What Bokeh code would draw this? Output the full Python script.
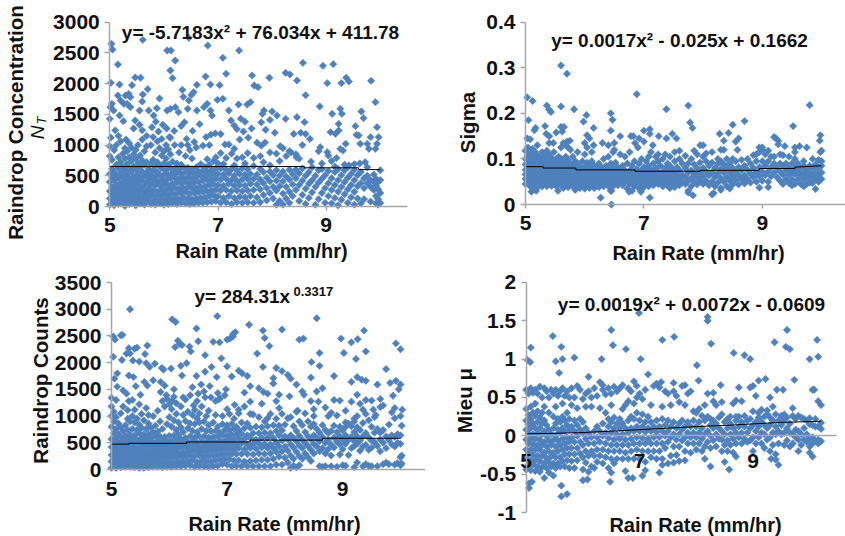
from bokeh.plotting import figure
from bokeh.models import Range1d, LinearAxis, FixedTicker, Label
from bokeh.layouts import column, row
from bokeh.embed import file_html
from bokeh.resources import INLINE
import math

FONT = "Liberation Sans"
BLUE = "#4f81bd"
GREY = "#a6a6a6"

x_ticks = [5, 7, 9]
nt_ticks = [0, 500, 1000, 1500, 2000, 2500, 3000]
sigma_ticks = [0, 0.1, 0.2, 0.3, 0.4]
counts_ticks = [0, 500, 1000, 1500, 2000, 2500, 3000, 3500]
mu_ticks = [-1, -0.5, 0, 0.5, 1, 1.5, 2]

# scattered points read one by one
nt_pts = [(5.03,2648),(5.05,2555),(5.15,2311),(5.02,2013),(5.18,1986),(5.61,2713),(6.46,2745),(6.81,2620),(6.06,2540),(6.13,2540),
(7.39,2540),(6.21,2376),(7.09,2420),(6.12,2214),(6.16,2089),(7.15,2160),(6.77,2116),(5.47,2100),(5.57,2095),(8.57,2338),
(8.94,2290),(9.13,2317),(8.25,2176),(8.33,2149),(8.46,2051),(9.37,2095),(9.42,2035),(9.28,2008),(9.02,2008),(9.83,2046),
(7.95,2095),(7.63,2132),(7.67,1970),(7.74,1942),(6.61,1980),(6.86,1986),(7.03,1975),(6.34,1899),(5.41,1975),(5.70,1910),
(8.62,1812),(9.91,1698),(8.88,1628),(6.36,1785),(6.55,1861),(6.51,1818),(6.46,1725),(5.92,1758),(5.61,1823),(5.60,1709),
(5.15,1807),(5.29,1807),(5.35,1834),(5.38,1780),(5.20,1725),(5.26,1671),(5.32,1671),(5.38,1617),(5.04,1671),(5.01,1617),
(5.07,1563),(5.00,1427),(5.18,1481),(5.25,1389),(5.55,1563),(5.72,1563),(5.87,1600),(5.81,1481),(6.06,1563),(6.12,1590),
(6.21,1617),(6.27,1536),(6.44,1590),(6.61,1563),(6.74,1617),(6.80,1671),(6.99,1736),(7.09,1752),(6.86,1563),(6.89,1481),
(7.20,1563),(7.38,1660),(7.54,1660),(7.60,1698),(7.85,1563),(7.82,1508),(8.00,1546),(8.09,1481),(8.25,1427),(8.46,1454),
(8.60,1373),(9.26,1590),(9.29,1508),(9.11,1508),(9.65,1546),(9.69,1438),(9.54,1308),(9.94,1291),(9.23,1346),(9.23,1237),
(9.08,1210),(9.17,1183),(9.56,1167),(9.60,1156),(9.82,1129),(9.97,1129),(9.94,1020),(9.76,1020),(9.63,1020),(9.36,1020),
(9.26,939),(8.89,966),(9.02,885),(9.91,939),(9.79,939),(5.10,1240),(5.02,1120),(5.16,1150),(5.30,1090),(5.44,1270),
(5.47,1400),(5.55,1330),(5.60,1240),(5.68,1150),(5.78,1290),(5.85,1380),(5.90,1220),(5.98,1330),(6.05,1270),(6.10,1130),
(6.19,1230),(6.32,1310),(6.38,1370),(6.42,1100),(6.53,1230),(6.66,1340),(6.78,1130),(6.87,1170),(6.95,1190),(7.05,1180),
(7.13,1010),(7.24,1400),(7.30,1320),(7.35,1260),(7.42,1430),(7.50,1380),(7.47,1220),(7.56,1120),(7.62,1270),(7.72,1040),
(7.80,1370),(7.88,1250),(7.96,1410),(8.05,1200),(8.40,1180),(8.53,1200),(8.62,1180),(8.70,1100),(8.56,1000),(7.20,1010),
(7.40,1090),(7.30,940),(7.80,990),(7.87,1040),(8.15,980),(8.35,880),(8.45,800),(8.72,730),(8.92,700),(9.10,740),(9.19,790),
(9.31,910),(9.42,670),(9.52,690),(9.62,700),(9.72,720),(10.0,590)]
nt_cols = [(5.00,[30,130,250,400,530,820,980]),(5.04,[80,190,320,470,610,760]),(5.08,[20,150,280,420,560,920]),(5.12,[90,210,350,500,680,1000]),
(5.16,[40,170,300,460,620,800]),(5.20,[110,240,380,540,720,1060]),(5.24,[50,180,330,480,640,860]),(5.28,[10,130,270,420,590,780,950]),
(5.32,[90,220,370,520,690,900]),(5.36,[40,160,310,460,620,800,1030]),(5.40,[110,250,400,570,740,960]),(5.44,[60,190,340,490,650,850]),
(5.48,[20,140,280,440,600,780,920]),(5.52,[90,230,380,530,700,1000]),(5.56,[50,170,320,470,640,830]),(5.60,[120,260,420,570,750,1090]),
(5.64,[30,180,340,500,680,900]),(5.68,[90,240,400,550,720,980]),(5.72,[150,290,460,610]),(5.76,[40,200,360,520,700,1000]),
(5.80,[100,260,430,590,760,1130]),(5.84,[30,170,340,490,650,880]),(5.88,[100,240,410,560,720,1060]),(5.92,[50,190,350,510,670,950]),
(5.96,[120,280,440,620,830,1100]),(6.00,[30,200,360,520,700,900]),(6.04,[110,270,430,590,780,1000]),(6.08,[40,190,350,510,680,930]),
(6.12,[120,280,460,620,850,1120]),(6.16,[60,210,370,540,730]),(6.20,[130,300,470,620,1000]),(6.24,[40,210,390,550,700]),
(6.28,[120,290,450,600,880]),(6.32,[60,220,380,530,680,1000]),(6.36,[140,300,470,640]),(6.40,[50,230,400,560,820]),
(6.44,[130,310,470,630,1000]),(6.48,[40,210,380,550,920]),(6.52,[120,300,460,610,780]),(6.56,[50,220,390,540,1050]),
(6.60,[130,300,480,640,960]),(6.64,[60,230,400,570]),(6.68,[140,320,500,690]),(6.72,[60,240,420,590,990]),
(6.76,[150,330,500,640]),(6.80,[70,250,430,570,770]),(6.84,[170,350,520,680,1000]),(6.88,[80,260,440,600]),
(6.92,[180,360,530,740]),(6.96,[90,270,450,620,800]),(7.00,[170,350,530,700]),(7.05,[60,260,440,620,870]),
(7.10,[140,340,520,690]),(7.15,[70,270,450,600,790]),(7.20,[170,370,540]),(7.25,[40,250,430,610,860]),
(7.30,[140,340,500,670]),(7.35,[70,260,420,590,780]),(7.40,[160,350,530]),(7.45,[60,250,440,620,800]),
(7.50,[150,340,520,700]),(7.55,[70,260,450,610,870]),(7.60,[170,370,530]),(7.66,[60,270,450,660,790]),
(7.72,[150,360,520]),(7.78,[70,280,440,610,820]),(7.84,[190,380,560,720]),(7.90,[100,300,470]),
(7.96,[220,410,570,670,880]),(8.02,[130,320,510]),(8.08,[30,260,420,590,860]),(8.14,[90,330,500,740]),
(8.20,[30,210,410,570,950]),(8.26,[130,320,490,820]),(8.32,[60,240,440,600,900]),(8.38,[170,360,530]),
(8.44,[270,460,600,850]),(8.50,[90,350,540,780]),(8.56,[190,420,620]),(8.62,[40,290,500]),
(8.68,[140,370,560]),(8.74,[230,430,640]),(8.80,[30,320,500]),(8.86,[120,390,590,900]),
(8.92,[220,450,610]),(8.98,[60,300,510]),(9.04,[170,380,580,830]),(9.10,[50,270,460]),
(9.16,[140,350,560,650]),(9.22,[20,240,430,610]),(9.28,[110,320,510]),(9.34,[200,400,590,680]),
(9.40,[60,280,470,640]),(9.46,[150,350,530]),(9.52,[30,240,430,600]),(9.58,[130,330,510]),
(9.64,[50,380,560]),(9.70,[120,300,460]),(9.76,[380,500,640]),(9.82,[80,320,430]),
(9.88,[270,400,520]),(9.92,[50,170,340,450]),(9.96,[30,120,280,400]),(10.0,[60,220,430])]

sigma_pts = [(5.03,0.235),(5.12,0.227),(5.05,0.185),(5.36,0.217),(5.40,0.208),(5.43,0.203),(5.60,0.215),(5.60,0.305),(5.70,0.287),(5.82,0.209),
(5.98,0.182),(6.03,0.196),(6.44,0.200),(6.47,0.186),(6.88,0.242),(7.38,0.209),(7.75,0.217),(7.78,0.180),(7.82,0.168),(8.50,0.175),
(8.70,0.183),(9.52,0.172),(9.80,0.218),(5.17,0.168),(5.15,0.163),(5.33,0.172),(5.35,0.155),(5.40,0.150),(5.52,0.158),(5.60,0.170),
(5.62,0.160),(5.65,0.170),(5.03,0.145),(5.08,0.143),(6.15,0.168),(6.04,0.152),(6.08,0.145),(6.44,0.162),(6.60,0.150),(6.78,0.150),
(6.82,0.150),(6.92,0.145),(7.00,0.162),(7.00,0.138),(7.10,0.165),(7.10,0.155),(7.25,0.150),(7.38,0.145),(7.48,0.155),(7.55,0.145),
(8.28,0.155),(8.35,0.140),(8.43,0.157),(8.55,0.138),(8.60,0.145),(9.20,0.148),(9.23,0.145),(9.27,0.140),(9.27,0.132),(9.38,0.128),
(9.55,0.125),(9.63,0.128),(9.75,0.125),(9.98,0.152),(9.97,0.140),(5.47,0.135),(5.70,0.138),(5.75,0.140),(5.72,0.125),(6.00,0.135),
(6.15,0.130),(6.30,0.135),(6.40,0.130),(6.50,0.135),(6.50,0.120),(6.85,0.135),(6.90,0.125),(7.15,0.130),(8.00,0.130),(8.30,0.120),
(8.35,0.120),(8.58,0.120),(8.95,0.125),(9.00,0.120),(9.55,0.115),(9.98,0.115),(10.0,0.118),(6.27,0.015),(6.45,0.0),(7.10,0.015),
(7.83,0.020),(8.15,0.022),(8.18,0.025),(9.90,0.034),(8.95,0.037),(9.10,0.038),(5.10,0.028),(5.18,0.030),(5.55,0.030),(6.45,0.030),
(6.75,0.028),(6.95,0.028),(7.75,0.030),(8.30,0.032),(8.45,0.035),(9.50,0.042),(9.70,0.040),(9.80,0.048),(9.70,0.095),(10.0,0.095)]
sigma_cols = [(5.00,[.045,.056,.066,.076,.088,.10,.118]),(5.04,[.05,.06,.07,.08,.092,.108,.125]),(5.08,[.04,.052,.063,.073,.084,.097,.112]),(5.12,[.035,.047,.058,.068,.079,.09,.105,.122]),
(5.16,[.042,.053,.064,.074,.085,.098,.116]),(5.20,[.037,.049,.06,.07,.081,.093,.108,.13]),(5.24,[.044,.055,.066,.076,.088,.103]),(5.28,[.04,.05,.061,.072,.083,.095,.115]),
(5.32,[.045,.056,.067,.078,.09,.106]),(5.36,[.04,.051,.062,.073,.084,.098,.118]),(5.40,[.046,.057,.068,.079,.092,.11,.135]),(5.44,[.041,.052,.063,.074,.086,.102]),
(5.48,[.046,.058,.069,.08,.094,.115]),(5.52,[.04,.052,.063,.074,.086,.10]),(5.56,[.047,.058,.069,.08,.093,.105]),(5.60,[.042,.053,.064,.075,.087,.10,.125]),
(5.64,[.036,.048,.059,.07,.082,.095,.135]),(5.68,[.043,.054,.065,.076,.089,.105,.13]),(5.72,[.038,.05,.061,.072,.084,.098]),(5.76,[.045,.056,.067,.078,.09,.12]),
(5.80,[.04,.052,.063,.074,.086,.105]),(5.84,[.032,.047,.058,.069,.081,.095]),(5.88,[.042,.054,.065,.076,.09,.115]),(5.92,[.036,.049,.06,.071,.083]),
(5.96,[.043,.055,.066,.078,.095]),(6.00,[.035,.048,.06,.071,.083,.11]),(6.04,[.042,.054,.065,.077,.092,.125]),(6.08,[.036,.049,.06,.071,.084]),
(6.12,[.043,.055,.066,.078,.095,.115]),(6.16,[.036,.05,.061,.072,.085]),(6.20,[.044,.056,.067,.08]),(6.24,[.038,.051,.062,.074,.09]),
(6.28,[.045,.057,.068,.082]),(6.32,[.04,.052,.064,.076,.10]),(6.36,[.046,.058,.07,.085]),(6.40,[.04,.053,.065,.078,.105]),
(6.44,[.03,.047,.059,.071,.09]),(6.48,[.04,.054,.066,.08,.115]),(6.52,[.048,.06,.072,.092]),(6.56,[.042,.055,.067,.082]),
(6.60,[.05,.062,.075,.11]),(6.64,[.042,.056,.068,.085]),(6.68,[.05,.062,.075,.105]),(6.72,[.035,.055,.068,.09]),
(6.76,[.045,.06,.074,.115]),(6.80,[.03,.052,.066,.085]),(6.84,[.04,.058,.072,.095]),(6.88,[.048,.063,.078]),
(6.92,[.035,.054,.068,.09]),(6.96,[.044,.06,.075,.10]),(7.00,[.038,.052,.067,.082]),(7.04,[.046,.06,.074,.095]),
(7.08,[.04,.055,.068,.085,.105]),(7.12,[.048,.062,.076,.115]),(7.16,[.042,.056,.07,.09]),(7.20,[.05,.064,.08,.105]),
(7.24,[.045,.058,.072,.095,.11]),(7.28,[.05,.065,.085]),(7.32,[.04,.056,.072,.10]),(7.36,[.048,.062,.08,.11]),
(7.40,[.042,.058,.073,.09]),(7.44,[.036,.052,.066,.085,.105]),(7.48,[.045,.06,.078]),(7.52,[.038,.054,.07,.095,.115]),
(7.56,[.05,.064,.082]),(7.60,[.042,.058,.075,.10,.118]),(7.65,[.05,.065,.09]),(7.70,[.045,.06,.08,.107]),
(7.75,[.026,.052,.07,.09]),(7.80,[.04,.058,.075,.10]),(7.85,[.05,.068,.088,.118]),(7.90,[.044,.06,.08,.11]),
(7.95,[.052,.07,.092,.13]),(8.00,[.045,.062,.08,.105]),(8.05,[.052,.072,.095,.112]),(8.10,[.042,.064,.085]),
(8.15,[.05,.07,.092,.115]),(8.20,[.04,.06,.08]),(8.25,[.048,.068,.09,.10]),(8.30,[.036,.058,.078,.095]),
(8.35,[.05,.07,.088]),(8.40,[.04,.06,.08,.10]),(8.45,[.052,.07,.09]),(8.50,[.044,.062,.08,.10]),
(8.55,[.054,.072,.095]),(8.60,[.044,.064,.082]),(8.65,[.055,.075,.098]),(8.70,[.046,.064,.085]),
(8.75,[.056,.076,.10]),(8.80,[.048,.068,.09]),(8.85,[.06,.08,.108]),(8.90,[.05,.07,.095,.11]),
(8.95,[.062,.082,.115]),(9.00,[.052,.072,.095,.125]),(9.05,[.064,.085,.11]),(9.10,[.05,.072,.095,.118]),
(9.15,[.062,.082,.105]),(9.20,[.07,.09,.105]),(9.25,[.06,.08]),(9.30,[.052,.072,.09,.11]),
(9.35,[.045,.065,.085,.108]),(9.40,[.055,.075,.09]),(9.45,[.047,.065,.08,.105]),(9.50,[.055,.072,.09]),
(9.55,[.045,.066,.08,.10]),(9.60,[.055,.072,.09]),(9.65,[.045,.064,.08]),(9.70,[.055,.07,.085]),
(9.75,[.045,.062,.078]),(9.80,[.055,.07,.085]),(9.85,[.047,.063,.08,.10]),(9.90,[.055,.07,.088]),
(9.95,[.05,.065,.08,.098]),(10.0,[.056,.07,.085])]

counts_pts = [(5.32,3000),(6.05,2810),(6.11,2760),(6.83,2870),(8.55,2830),(7.38,2710),(7.62,2600),(7.95,2620),(6.47,2640),(9.37,2600),
(5.03,2490),(5.06,2430),(5.16,2510),(5.19,2520),(6.15,2410),(6.18,2350),(6.10,2290),(6.22,2330),(6.35,2300),(6.37,2210),
(6.50,2400),(6.62,2140),(6.76,2390),(6.87,2380),(6.90,2080),(7.00,2430),(7.05,2450),(7.10,2490),(7.14,2570),(7.10,2530),
(7.65,2460),(7.73,2310),(7.52,2170),(8.25,2430),(8.32,2450),(8.60,2180),(8.97,2450),(9.15,2380),(9.26,2440),(9.02,2180),
(9.23,2070),(9.40,2210),(9.92,2360),(10.0,2250),(5.18,2050),(5.03,2110),(5.26,2170),(5.32,2170),(5.30,2270),(5.40,2260),
(5.44,2280),(5.62,2320),(5.58,2160),(5.37,2040),(5.48,2020),(5.60,1990),(5.66,1920),(5.75,1980),(5.87,1900),(5.90,1870),
(6.03,1890),(6.20,1940),(6.30,1990),(6.47,1750),(6.62,1830),(6.73,1920),(6.82,1730),(7.00,1930),(7.08,1740),(7.20,1850),
(7.26,1800),(7.35,1750),(7.62,1920),(7.85,1900),(7.95,1840),(8.05,1770),(8.10,1700),(8.46,2010),(8.45,1720),(8.60,1940),
(8.85,1750),(9.15,1640),(9.25,1730),(9.33,1680),(9.40,1660),(9.75,1880),(9.60,1590),(9.82,1620),(9.92,1660),(10.0,1590),
(8.65,1520),(8.55,1460),(8.45,1280),(8.20,1590),(8.30,1460),(7.80,1710),(7.80,1610),(7.55,1520),(7.40,1560),(7.30,1440),
(7.63,1450),(7.70,1420),(7.90,1400),(8.08,1370),(8.33,1400),(8.50,1130),(8.85,1300),(9.25,1400),(9.40,1300),(9.53,1120),
(9.65,1320),(9.70,1200),(9.87,1380),(9.97,1500),(10.03,1120),(10.0,1000),(9.90,1150),(10.02,820),(5.00,1340),(5.10,1800),
(5.05,1700),(5.10,1550),(5.20,1480),(5.26,1420),(5.30,1280),(5.30,1760),(5.38,1730),(5.42,1560),(5.50,1400),(5.57,1640),
(5.62,1570),(5.72,1670),(5.85,1640),(5.92,1570),(5.85,1450),(5.95,1390),(6.05,1290),(6.08,1500),(6.22,1760),(6.28,1310),
(6.40,1540),(6.42,1200),(6.50,1420),(6.62,1350),(6.55,1590),(6.70,1560),(6.85,1310),(6.98,1500),(7.00,1130),(7.13,1210),
(7.20,1120),(7.40,1040),(7.60,1230),(7.70,960),(7.85,1280),(7.95,1040),(8.22,1100),(8.50,850),(8.58,1270),(8.70,1160),
(8.80,1060),(8.95,1290),(9.05,880),(9.20,950),(9.50,1290),(9.57,1020)]
counts_cols = [(5.00,[30,150,270,420,570,800,1000,1180]),(5.04,[90,210,350,490,680,900,1080]),(5.08,[30,160,290,430,590,760,980,1300]),(5.12,[100,230,370,510,660,860]),
(5.16,[40,170,310,450,610,790,1050]),(5.20,[110,250,390,540,720,1180]),(5.24,[50,180,320,470,630,830]),(5.28,[120,260,410,560,740,950,1110]),
(5.32,[50,190,340,490,650,900]),(5.36,[110,260,410,570,760,1000,1300]),(5.40,[40,180,330,480,640,880,1120]),(5.44,[110,260,400,560,740,950]),
(5.48,[30,190,340,500,680,840,1220]),(5.52,[100,260,420,590,780,1040]),(5.56,[30,180,340,500,660,920]),(5.60,[100,260,430,570,760,1150]),
(5.64,[40,190,340,500,660,860,1020]),(5.68,[120,270,430,590,780]),(5.72,[50,200,360,510,700,1000]),(5.76,[130,290,440,620,820]),
(5.80,[50,210,370,530,710,1100]),(5.84,[130,290,450,620,900]),(5.88,[40,210,370,530,760,1280]),(5.92,[120,290,450,610,1180]),
(5.96,[50,210,370,530,850,1320]),(6.00,[130,290,450,630,980,1220]),(6.04,[50,220,380,540,800,1130]),(6.08,[130,300,460,640,920,1360]),
(6.12,[60,230,390,560,740,1040,1240]),(6.16,[140,310,480,650,880]),(6.20,[60,240,410,570,790,1180]),(6.24,[150,320,490,700,1020,1350]),
(6.28,[70,250,420,590,910]),(6.32,[160,340,510,770,1080]),(6.36,[80,260,430,620,860,1390]),(6.40,[170,350,520,720,1020]),
(6.44,[50,250,430,600,850,1120]),(6.48,[140,340,500,700,960,1280]),(6.52,[60,260,420,620,880,1050]),(6.56,[160,340,520,760,1180]),
(6.60,[60,250,430,620,900,1460]),(6.64,[150,340,510,720,1000]),(6.68,[50,250,430,600,830,1100]),(6.72,[150,350,520,720,1350]),
(6.76,[60,260,430,610,880]),(6.80,[170,360,510,720,1020,1280]),(6.84,[70,270,430,620,800,1430]),(6.88,[180,370,530,690,1330]),
(6.92,[100,280,450,640,850,1000]),(6.96,[190,380,540,740,1390]),(7.00,[90,290,470,640,830]),(7.04,[190,380,560,740,1040]),
(7.08,[60,290,470,650,850]),(7.12,[170,380,560,760,950]),(7.16,[70,290,470,660,800]),(7.20,[170,400,580,740,1050]),
(7.25,[60,290,490,670,880]),(7.30,[150,380,570,770,1180]),(7.35,[60,290,470,640,860]),(7.40,[160,400,590,780,1270]),
(7.45,[60,280,480,680,1030]),(7.50,[170,390,560,800]),(7.55,[60,300,490,680,980]),(7.60,[180,410,590,790]),
(7.65,[60,290,480,690,900]),(7.70,[180,400,590,810]),(7.75,[60,300,470,680,1040]),(7.80,[200,400,590,830]),
(7.85,[90,330,500,720,950]),(7.90,[240,430,640,820,1150]),(7.95,[90,340,540,730]),(8.00,[220,430,620,840]),
(8.05,[130,350,560,960]),(8.10,[30,260,470,640,980]),(8.15,[70,200,410,590,810]),(8.20,[40,330,530,720,1080]),
(8.25,[80,250,450,630,900]),(8.30,[200,400,560,830]),(8.35,[300,500,700,1050]),(8.40,[230,440,620,900]),
(8.45,[160,370,570,800]),(8.50,[300,480,640,1000]),(8.55,[430,590,760]),(8.60,[60,340,530,690]),
(8.65,[50,400,610,830]),(8.70,[60,300,500,740]),(8.75,[380,560,680,1000]),(8.80,[60,260,470,720]),
(8.85,[410,600,820]),(8.90,[50,520,700,1010]),(8.95,[280,470,620,800]),(9.00,[80,380,560,730]),
(9.05,[70,480,640,800,1100]),(9.10,[270,550,860]),(9.15,[400,610,810,1270]),(9.20,[40,440,530,700,900]),
(9.25,[130,480,620,790,1000]),(9.30,[350,540,740,1230]),(9.35,[60,430,620,870,1120]),(9.40,[100,460,680,1040]),
(9.45,[70,370,600,920]),(9.50,[60,410,540,800]),(9.55,[510,690,980]),(9.60,[60,440,760]),
(9.65,[340,560,690,1170]),(9.70,[100,500,740]),(9.75,[130,400,620]),(9.80,[100,550,840]),
(9.85,[470,640,1070]),(9.90,[90,430,610,960]),(9.95,[120,500,660]),(10.0,[80,230,480,640]),(10.02,[110,260])]

mu_pts = [(5.02,0.99),(5.07,0.96),(5.08,1.15),(5.47,1.30),(5.62,1.16),(5.52,0.97),(5.64,1.00),(5.58,0.82),(5.85,1.02),(6.33,1.00),
(6.50,1.38),(6.53,1.18),(6.76,1.13),(7.02,1.00),(7.40,1.25),(7.61,1.29),(8.01,0.92),(8.20,1.55),(8.20,1.50),(8.26,1.20),(6.99,1.60),
(8.04,0.72),(8.66,1.08),(8.85,1.05),(8.95,1.00),(9.38,1.22),(9.58,1.16),(9.65,1.13),(9.60,1.38),(10.0,1.00),(10.13,1.25),(10.15,1.03),
(7.15,0.80),(6.10,0.77),(7.30,0.68),(7.38,0.70),(6.90,0.71),(7.60,0.69),(7.80,0.66),(8.43,0.66),(8.75,0.63),(9.10,0.72),(9.22,0.74),
(9.73,0.73),(9.00,0.65),(9.30,0.50),(9.42,0.60),(9.53,0.60),(10.08,0.60),(10.15,0.45),(10.20,0.40),(5.05,-0.62),(5.05,-0.68),(5.10,-0.60),
(5.62,-0.65),(5.62,-0.79),(5.72,-0.76),(6.00,-0.58),(6.08,-0.57),(6.48,-0.60),(6.80,-0.55),(6.88,-0.55),(7.05,-0.52),(7.10,-0.45),(7.35,-0.48),
(7.40,-0.38),(7.80,-0.32),(8.15,-0.30),(8.25,-0.40),(8.50,-0.34),(8.58,-0.44),(8.70,-0.27),(9.00,-0.20),(9.45,-0.38),(9.32,-0.30),(9.40,-0.31),(10.05,-0.27),(10.0,-0.22)]
mu_cols = [(5.00,[-.44,-.3,-.18,-.05,.08,.2,.35,.6]),(5.04,[-.38,-.24,-.1,.03,.15,.27,.55]),(5.08,[-.45,-.32,-.18,-.04,.1,.22,.38,.62]),(5.12,[-.38,-.25,-.11,.02,.16,.3,.56]),
(5.16,[-.46,-.32,-.18,-.04,.1,.26,.42,.6]),(5.20,[-.4,-.26,-.12,.03,.18,.32,.55]),(5.24,[-.47,-.33,-.18,-.05,.1,.24,.64]),(5.28,[-.41,-.26,-.12,.02,.16,.3,.5]),
(5.32,[-.55,-.36,-.22,-.08,.06,.2,.38,.62]),(5.36,[-.42,-.29,-.14,0,.14,.58]),(5.40,[-.48,-.34,-.2,-.06,.08,.3,.5]),(5.44,[-.4,-.27,-.12,.02,.6]),
(5.48,[-.52,-.36,-.22,-.06,.1,.25,.55]),(5.52,[-.42,-.28,-.14,0,.16,.38,.6]),(5.56,[-.36,-.2,-.06,.08,.22,.52]),(5.60,[-.4,-.28,-.12,.04,.18,.58]),
(5.64,[-.33,-.18,-.04,.1,.25,.42,.62]),(5.68,[-.4,-.24,-.1,.06,.2,.52]),(5.72,[-.32,-.16,-.02,.14,.3,.58]),(5.76,[-.42,-.24,-.08,.08,.22,.5]),
(5.80,[-.33,-.16,-.02,.12,.4,.62]),(5.85,[-.42,-.24,-.08,.06,.2,.5]),(5.90,[-.32,-.16,0,.14,.36,.65]),(5.95,[-.23,-.08,.08,.22,.6]),
(6.00,[-.44,-.28,-.12,.03,.18,.48]),(6.05,[-.35,-.2,-.04,.1,.38,.55]),(6.10,[-.47,-.26,-.1,.04,.58]),(6.15,[-.4,-.2,-.02,.38,.5]),
(6.20,[-.42,-.26,-.1,.06,.62]),(6.25,[-.34,-.18,-.02,.12,.52]),(6.30,[-.26,-.08,.06,.36,.7]),(6.35,[-.36,-.18,0,.16,.6,.66]),
(6.40,[-.28,-.1,.04,.3,.54]),(6.45,[-.42,-.2,-.03,.12,.22,.62]),(6.50,[-.48,-.3,-.12,.04,.18,.4,.55]),(6.55,[-.36,-.2,-.05,.1,.24,.64]),
(6.60,[-.3,-.12,.02,.16,.58]),(6.65,[-.2,-.04,.1,.22,.62]),(6.70,[-.3,-.12,.02,.16,.35,.66]),(6.75,[-.46,-.22,-.05,.1,.4]),
(6.80,[-.3,-.12,.04,.2,.45,.62]),(6.85,[-.2,-.04,.1,.25,.58]),(6.90,[-.3,-.1,.06,.22,.42]),(6.95,[-.18,-.02,.12,.3,.5,.65]),
(7.00,[-.3,-.1,.06,.2,.55]),(7.05,[-.2,-.03,.12,.28,.48]),(7.10,[-.34,-.1,.05,.18,.6]),(7.15,[-.2,-.04,.1,.25]),
(7.20,[-.28,-.1,.06,.18,.4]),(7.25,[-.2,-.02,.12,.65]),(7.30,[-.3,-.1,.05,.2]),(7.35,[-.2,-.02,.12,.63]),
(7.40,[-.3,-.1,.06,.22,.38]),(7.45,[-.16,0,.14,.58]),(7.50,[-.36,-.08,.06,.2,.55]),(7.55,[-.26,-.02,.12,.4]),
(7.60,[-.35,-.14,.02,.18,.58]),(7.65,[-.25,-.05,.1,.52]),(7.70,[-.33,-.14,.02,.16,.44]),(7.75,[-.06,.08,.2,.65]),
(7.80,[-.2,-.02,.12,.4]),(7.85,[-.1,.04,.18,.55]),(7.90,[-.22,-.02,.12,.58]),(7.95,[-.1,.04,.2,.32]),
(8.00,[-.18,-.02,.12,.3]),(8.05,[-.1,.04,.18,.35]),(8.10,[-.2,-.04,.1,.26]),(8.15,[-.14,.02,.2,.4]),
(8.20,[-.08,.06,.25,.55]),(8.25,[-.16,0,.14,.22]),(8.30,[-.06,.1,.2,.45,.56]),(8.35,[-.14,.02,.16,.4]),
(8.40,[-.04,.1,.24]),(8.45,[-.2,-.05,.06,.28,.44]),(8.50,[-.12,.02,.18]),(8.55,[-.2,-.06,.1,.22]),
(8.60,[-.12,.02,.16,.25]),(8.65,[-.22,-.04,.1,.42]),(8.70,[-.1,.04,.2,.25,.46]),(8.75,[-.02,.12,.25]),
(8.80,[-.1,.04,.18,.45]),(8.85,[-.04,.12,.26]),(8.90,[-.08,.04,.2]),(8.95,[-.06,.1,.22,.63]),
(9.00,[-.02,.14,.32]),(9.05,[-.1,.06,.18,.52]),(9.10,[-.02,.12,.24,.3]),(9.15,[-.1,.04,.18,.34]),
(9.20,[-.16,.02,.14,.25]),(9.25,[-.05,.1,.28,.33]),(9.30,[-.2,-.02,.14,.24]),(9.35,[-.12,.04,.2,.38]),
(9.40,[-.24,.02,.12,.28]),(9.45,[-.1,.06,.2]),(9.50,[.02,.14,.26]),(9.55,[-.12,.04,.2,.28]),
(9.60,[-.06,.1,.24]),(9.65,[-.14,.04,.16]),(9.70,[-.1,.02,.26,.36]),(9.75,[-.02,.08,.22]),
(9.80,[-.2,-.05,.06,.26]),(9.85,[-.12,.02,.24]),(9.90,[-.05,.1,.22]),(9.95,[-.08,.02,.2]),
(10.0,[-.14,-.04,.15,.23]),(10.05,[-.1,-.02,.14,.6]),(10.10,[-.07,.12,.22]),(10.15,[-.1,-.05,.12]),(10.20,[-.07,.09,.17])]

nt_trend = ([5, 8.6, 8.6, 9.6, 9.6, 10], [650, 650, 630, 630, 600, 600])
sigma_trend = ([5, 5.3, 5.3, 5.85, 5.85, 6.85, 6.85, 7.95, 7.95, 8.95, 8.95, 9.55, 9.55, 10],
               [0.083, 0.083, 0.08, 0.08, 0.076, 0.076, 0.073, 0.073, 0.075, 0.075, 0.079, 0.079, 0.082, 0.085])
counts_trend = ([5, 5.3, 5.3, 6.3, 6.3, 7.4, 7.4, 8.65, 8.65, 10],
                [475, 475, 490, 490, 515, 515, 550, 550, 585, 585])
mu_trend = ([5, 5.9, 6.5, 7.0, 7.5, 8.0, 8.5, 9.0, 9.5, 10.2],
            [0.025, 0.04, 0.06, 0.08, 0.1, 0.12, 0.135, 0.155, 0.175, 0.19])

W1, W2, H1, H2 = 425, 420, 268, 268


def panel(box, x5_px, px_per_x, y_ref, px_per_y, xticks, yticks, ybounds, xend, xstandoff, xtick_out, pts, cols, trend):
    bl, br, bt, bb = box
    xv = lambda px: 5 + (px - x5_px) / px_per_x
    yv = lambda py: y_ref[1] + (y_ref[0] - py) / px_per_y
    p = figure(width=br - bl, height=bb - bt, output_backend="svg", toolbar_location=None,
               x_range=Range1d(xv(bl), xv(br)), y_range=Range1d(yv(bb), yv(bt)),
               x_axis_type=None, y_axis_type=None, frame_align=False,
               min_border_left=0, min_border_right=0, min_border_top=0, min_border_bottom=0,
               outline_line_color=None, background_fill_color=None, border_fill_color=None)
    p.xgrid.visible = False
    p.ygrid.visible = False
    ax = LinearAxis(ticker=FixedTicker(ticks=xticks), fixed_location=0, bounds=(5, xend),
                    major_label_overrides={t: str(t) for t in xticks})
    ay = LinearAxis(ticker=FixedTicker(ticks=yticks), fixed_location=5, bounds=ybounds,
                    major_label_overrides={t: str(t) for t in yticks})
    for a in (ax, ay):
        a.axis_line_color = GREY
        a.axis_line_width = 1.5
        a.major_tick_line_color = GREY
        a.major_tick_line_width = 1.5
        a.minor_tick_line_color = None
        a.major_label_text_font = FONT
        a.major_label_text_font_style = "bold"
        a.major_label_text_font_size = "21px"
        a.major_label_text_color = "#111111"
    ax.major_tick_out = xtick_out
    ax.major_tick_in = 0
    ax.major_label_standoff = xstandoff
    ay.major_tick_out = 5
    ay.major_tick_in = 0
    ay.major_label_standoff = 5
    p.add_layout(ax, "below")
    p.add_layout(ay, "left")
    xs = [a for a, _ in pts] + [a for a, ys in cols for _ in ys]
    ys = [b for _, b in pts] + [b for _, col in cols for b in col]
    p.scatter(xs, ys, marker="square", angle=math.pi / 4, size=5.2, fill_color=BLUE, line_color=BLUE, line_width=0.5)
    p.line(trend[0], trend[1], line_color="black", line_width=1)

    def txt(s, px, py, size=18, angle=0, style="bold", align="center", base="middle"):
        p.add_layout(Label(x=xv(px), y=yv(py), text=s, text_font=FONT, text_font_style=style,
                           text_font_size=f"{size}px", angle=angle, text_align=align,
                           text_baseline=base, text_color="#111111"))
    return p, txt


up = math.pi / 2
p1, t = panel((0, W1, 0, H1), 109.3, 54.1, (206, 0), 184.3 / 3000,
              x_ticks, nt_ticks, (0, 3000), 10.5, 7, 4, nt_pts, nt_cols, nt_trend)
t("y= -5.7183x² + 76.034x + 411.78", 260, 32, size=19)
t("Rain Rate (mm/hr)", 261, 250, size=20)
t("Raindrop Concentration", 15, 122, size=20.5, angle=up)
t("N", 37, 132, size=19, angle=up, style="italic")
t("T", 41, 120, size=13, angle=up, style="italic")

p2, t = panel((W1, W1 + W2, 0, H1), 525, 59.2, (204, 0), 182.3 / 0.4,
              x_ticks, sigma_ticks, (0, 0.4), 10.4, 7, 4, sigma_pts, sigma_cols, sigma_trend)
t("y= 0.0017x² - 0.025x + 0.1662", 679, 40, size=19)
t("Rain Rate (mm/hr)", 698, 252, size=20)
t("Sigma", 467, 122, size=20.5, angle=up)

p3, t = panel((0, W1, H1, H1 + H2), 111, 57.8, (469, 0), 187 / 3500,
              x_ticks, counts_ticks, (0, 3500), 10.43, 12, 0, counts_pts, counts_cols, counts_trend)
t("y= 284.31x", 194, 296, size=19, align="left")
t("0.3317", 293, 291, size=13, align="left")
t("Rain Rate (mm/hr)", 274, 523, size=20)
t("Raindrop Counts", 40, 380, size=20.5, angle=up)

p4, t = panel((W1, W1 + W2, H1, H1 + H2), 525.7, 56.7, (435.3, 0), 76.7,
              x_ticks, mu_ticks, (-1, 2), 10.47, 18, 0, mu_pts, mu_cols, mu_trend)
t("y= 0.0019x² + 0.0072x - 0.0609", 691, 304, size=19)
t("Rain Rate (mm/hr)", 695, 524, size=20)
t("Mieu μ", 464, 400, size=20.5, angle=up)

page = column(row(p1, p2), row(p3, p4))
open("out.html", "w").write(file_html(page, INLINE))
